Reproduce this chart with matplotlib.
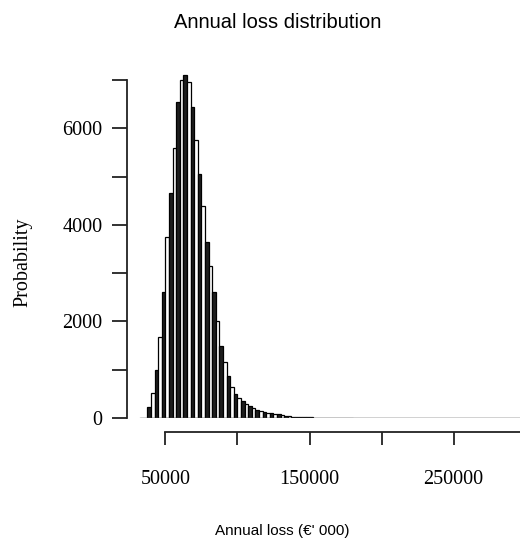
import matplotlib
matplotlib.use("Agg")
import matplotlib.pyplot as plt
import numpy as np

# ---- data ----
bin_start = 32500
bin_width = 2500
counts = [
    0, 0,
    230, 520, 1000, 1680, 2600, 3750, 4650, 5600, 6550, 7000,
    7100, 6950, 6450, 5750, 5050, 4400, 3650, 3150, 2600, 2000,
    1500, 1150, 860, 650, 500, 420, 350, 290, 250, 200,
    170, 140, 120, 110, 100, 90, 80, 60, 45, 35,
    25, 20, 18, 15, 14, 12, 10, 10, 9, 8,
    7, 6, 6, 5, 5, 4, 4,
    1, 1, 1, 1, 1, 1, 1, 1, 1, 1,
    1, 1, 1, 1, 1, 1, 1, 1, 1, 1,
    1, 1, 1, 1, 1, 1, 1, 1, 1, 1,
    1, 1, 1, 1, 1, 1, 1, 1, 1, 1,
    1, 1, 1, 1, 1, 1, 1, 1,
]
y_ticks = [0, 1000, 2000, 3000, 4000, 5000, 6000, 7000]
y_labels = ["0", "", "2000", "", "4000", "", "6000", ""]
x_ticks = [50000, 100000, 150000, 200000, 250000]
x_labels = ["50000", "", "150000", "", "250000"]
title = "Annual loss distribution"
xlabel = "Annual loss (€' 000)"
ylabel = "Probability"

# ---- figure ----
W, H = 520, 543
fig = plt.figure(figsize=(W / 100, H / 100), dpi=100)
ax = fig.add_axes([127 / W, 1 - 418 / H, (526 - 127) / W, 358 / H])

edges = bin_start + bin_width * np.arange(len(counts))
faces = ["#1e1e1e" if i % 2 == 0 else "white" for i in range(len(counts))]
ecols = ["black" if c > 2 else "#6a6a6a" for c in counts]
ax.bar(edges, counts, width=bin_width, align="edge", facecolor=faces,
       edgecolor=ecols, linewidth=0.9)
# baseline of the empty / near-empty bins
ax.plot([edges[0], edges[-1] + bin_width], [0, 0], color="#6a6a6a",
        linewidth=1.0, zorder=1)

ax.set_xlim(23300, 300300)
ax.set_ylim(0, 7414)

for s in ["top", "right"]:
    ax.spines[s].set_visible(False)
ax.spines["left"].set_bounds(0, 7000)
ax.spines["bottom"].set_position(("outward", 10.1))
ax.spines["bottom"].set_bounds(50000, 300000)
for s in ["left", "bottom"]:
    ax.spines[s].set_linewidth(1.3)
    ax.spines[s].set_color("#222222")

serif = ["Liberation Serif", "DejaVu Serif"]
sans = ["Liberation Sans", "DejaVu Sans"]

ax.set_yticks(y_ticks)
ax.set_yticklabels(y_labels, fontfamily=serif, fontsize=14.5)
ax.set_xticks(x_ticks)
ax.set_xticklabels(x_labels, fontfamily=serif, fontsize=14.5)
ax.tick_params(axis="y", length=10.8, width=1.3, pad=7, color="#222222")
ax.tick_params(axis="x", length=9.5, width=1.3, pad=18, color="#222222")

fig.text(278 / W, 1 - 22 / H, title, ha="center", va="center",
         fontsize=14.5, family=sans)
fig.text(282 / W, 1 - 531 / H, xlabel, ha="center", va="center",
         fontsize=11, family=sans)
fig.text(23 / W, 1 - 262 / H, ylabel, ha="center", va="center",
         rotation=90, fontsize=14.5, family=serif)

fig.savefig("out.png", dpi=100)
